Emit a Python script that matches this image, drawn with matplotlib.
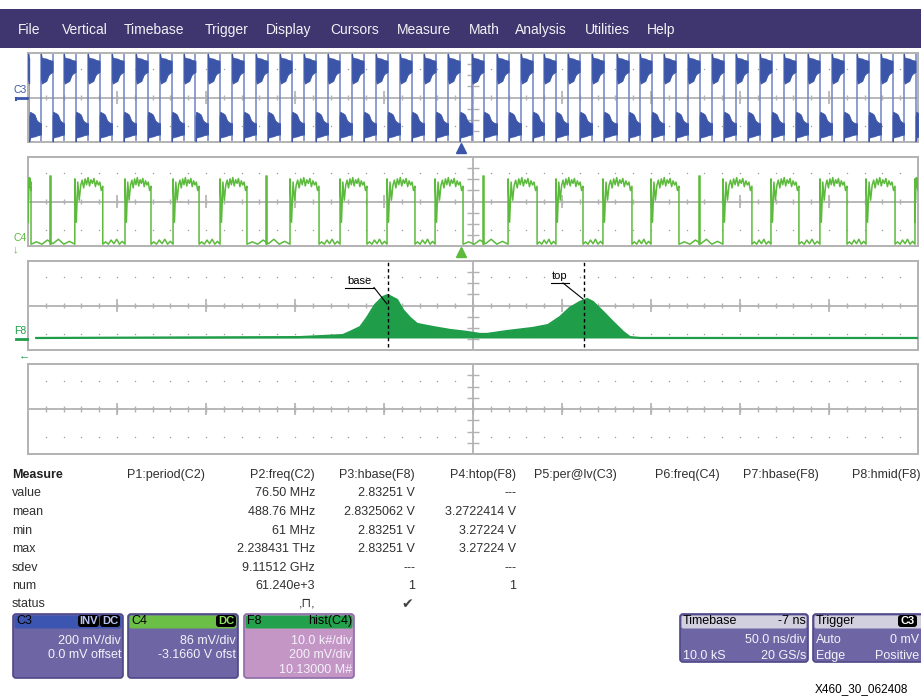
import numpy as np
import matplotlib.pyplot as plt
from matplotlib.patches import Rectangle, FancyBboxPatch

plt.rcParams['font.family'] = ['Liberation Sans', 'DejaVu Sans']

W, H = 921, 696

# ---------------- data ----------------
menu_items = ['File', 'Vertical', 'Timebase', 'Trigger', 'Display', 'Cursors',
              'Measure', 'Math', 'Analysis', 'Utilities', 'Help']
menu_x = [18, 62, 124, 205, 266, 330, 397, 469, 515, 585, 647]

# C3 edges in ns (50 ns/div, screen centre = 0)
c3_rise = [-242.7, -229.8, -216.3, -202.8, -189.3, -175.8, -162.4, -148.9, -135.4,
           -121.9, -108.4, -94.9, -81.5, -68.0, -54.5, -41.0, -27.5, -14.0, -0.6,
           13.5, 27.0, 39.9, 53.4, 66.9, 80.9, 93.8, 107.3, 120.8, 134.3, 147.8,
           161.2, 174.7, 188.2, 201.7, 215.7, 229.2, 242.1]
c3_fall = [-249.3, -236.2, -223.3, -209.8, -196.3, -182.8, -169.3, -155.9, -142.4,
           -128.9, -115.4, -101.9, -88.4, -75.0, -61.5, -48.0, -34.5, -21.0, -7.5,
           5.9, 20.0, 33.5, 46.4, 59.9, 73.4, 87.4, 100.3, 113.8, 127.3, 140.8,
           154.3, 167.7, 181.2, 194.7, 208.2, 222.2, 235.7, 248.6]
# ringing band after each edge (ns after edge -> mV)
ring_t = [0.0, 0.4, 1.0, 2.0, 3.0, 3.6, 4.2, 5.0, 6.0, 7.0, 8.0]
c3_hi_upper = [395, 360, 355, 352, 350, 345, 340, 336, 332, 330, 330]
c3_hi_lower = [170, 125, 132, 140, 150, 175, 200, 215, 225, 230, 230]
c3_lo_upper = [-170, -128, -134, -142, -155, -180, -205, -218, -228, -232, -232]
c3_lo_lower = [-395, -362, -356, -352, -350, -346, -342, -338, -334, -332, -332]

# C4 high intervals (ns), narrow glitches, plateau / low shapes (mV)
c4_high_start = [-250.0, -223.7, -195.5, -168.5, -142.1, -102.8, -74.7, -48.3, -21.3,
                 19.7, 46.6, 73.0, 100.0, 140.4, 167.4, 194.9, 220.8, 248.3]
c4_high_end = [-248.3, -208.0, -180.9, -153.9, -127.0, -86.5, -59.6, -32.6, -5.6,
               36.0, 61.8, 89.3, 115.7, 156.7, 183.1, 210.1, 237.1, 250.0]
c4_glitch = [-237.6, -116.3, 5.6, 127.0]
c4_plateau = [175, -160, 150, 10, 125, 165, 105, 175, 130, 185, 120, 168, 140, 178,
              115, 160, 128, 150, 85, 118]
c4_low = [-330, -312, -330, -298, -326, -292, -330, -308, -330]

# F8 histogram of C4 (V, k#)
hist_v = [2.042, 2.635, 2.731, 2.747, 2.770, 2.785, 2.803, 2.821, 2.832, 2.853, 2.866,
          2.882, 2.898, 2.934, 2.972, 3.010, 3.039, 3.055, 3.100, 3.158, 3.192, 3.219,
          3.241, 3.264, 3.280, 3.293, 3.316, 3.338, 3.361, 3.376, 3.399, 4.023]
hist_k = [0, 0.4, 1.3, 2.7, 4.9, 9.0, 14.8, 18.4, 19.3, 17.1, 12.6, 9.0, 6.3, 4.9, 3.6,
          2.7, 1.8, 1.8, 3.1, 4.5, 5.8, 9.4, 13.5, 16.2, 17.5, 16.2, 11.7, 7.2, 2.7,
          0.4, 0, 0]
hbase, htop = 2.83251, 3.27224

# measurement table
row_labels = ['value', 'mean', 'min', 'max', 'sdev', 'num', 'status']
col_heads = ['P1:period(C2)', 'P2:freq(C2)', 'P3:hbase(F8)', 'P4:htop(F8)',
             'P5:per@lv(C3)', 'P6:freq(C4)', 'P7:hbase(F8)', 'P8:hmid(F8)']
p2_vals = ['76.50 MHz', '488.76 MHz', '61 MHz', '2.238431 THz', '9.11512 GHz',
           '61.240e+3', ',⊓,']
p3_vals = ['2.83251 V', '2.8325062 V', '2.83251 V', '2.83251 V', '---', '1', '✔']
p4_vals = ['---', '3.2722414 V', '3.27224 V', '3.27224 V', '---', '1', '']

BLUE = '#3b55a8'
BLUE_L = '#6f84c4'
GREEN = '#5cba3c'
HGREEN = '#1f9d49'
GRID = '#b2b2b2'

fig = plt.figure(figsize=(W / 100, H / 100), dpi=100)
fig.patch.set_facecolor('white')


def px_axes(x0, y0, x1, y1):
    return fig.add_axes([x0 / W, 1 - y1 / H, (x1 - x0) / W, (y1 - y0) / H])


def graticule(ax):
    ax.set_xticks([])
    ax.set_yticks([])
    for s in ax.spines.values():
        s.set_color(GRID)
        s.set_linewidth(1.4)
    tr = ax.transAxes
    xs = np.arange(1, 50) / 50
    for yy in (0.185, 0.815):
        ax.plot(xs, [yy] * len(xs), ls='none', marker='s', ms=0.9, mew=0,
                color='#9a9a9a', transform=tr, zorder=1)
    ax.plot([0, 1], [0.5, 0.5], color=GRID, lw=1.3, transform=tr, zorder=1)
    ax.plot([0.5, 0.5], [0, 1], color=GRID, lw=1.3, transform=tr, zorder=1)
    ax.vlines(xs, 0.47, 0.53, color=GRID, lw=1.0, transform=tr, zorder=1)
    ax.vlines(np.arange(1, 10) / 10, 0.43, 0.57, color=GRID, lw=1.2, transform=tr, zorder=1)
    yt = [0.5 + j * 0.125 for j in (-3, -2, -1, 1, 2, 3)]
    ax.hlines(yt, 0.493, 0.507, color=GRID, lw=1.0, transform=tr, zorder=1)


# ---------------- C3 ----------------
ax3 = px_axes(28, 53, 918, 142)
ax3.set_xlim(-250, 250)
ax3.set_ylim(-400, 400)
graticule(ax3)
edges = sorted([(t, 1) for t in c3_rise] + [(t, 0) for t in c3_fall])
state, start = 1, -250.0
segs = []
for t, st in edges:
    segs.append((start, t, state))
    start, state = t, st
segs.append((start, 250.0, state))
ax3.vlines(c3_rise + c3_fall, -390, 390, color=BLUE_L, lw=1.1, zorder=2)
for s, e, st in segs:
    tt = np.minimum(s + np.array(ring_t), e)
    up, lo = (c3_hi_upper, c3_hi_lower) if st else (c3_lo_upper, c3_lo_lower)
    ax3.fill_between(tt, lo, up, color=BLUE, lw=0.6, edgecolor=BLUE, zorder=3)
ax3.plot([-7], [-0.07], marker='^', ms=7, color=BLUE, clip_on=False,
         transform=ax3.get_xaxis_transform())

# ---------------- C4 ----------------
ax4 = px_axes(28, 157, 918, 246)
ax4.set_xlim(-250, 250)
ax4.set_ylim(-344, 344)
graticule(ax4)
t_parts, y_parts = [], []
prev_end = None
for s, e in zip(c4_high_start, c4_high_end):
    if prev_end is not None:
        t_parts.append(np.linspace(prev_end, s, len(c4_low)))
        y_parts.append(c4_low)
    t_parts.append(np.linspace(s, e, len(c4_plateau)))
    y_parts.append(c4_plateau)
    prev_end = e
ax4.plot(np.concatenate(t_parts), np.concatenate(y_parts), color=GREEN, lw=1.1, zorder=3)
for g in c4_glitch:
    ax4.plot([g, g, g + 0.8, g + 0.8], [-330, 195, 195, -330], color=GREEN, lw=1.1, zorder=3)
ax4.plot([-7], [-0.07], marker='^', ms=7, color=GREEN, clip_on=False,
         transform=ax4.get_xaxis_transform())

# ---------------- F8 histogram ----------------
ax8 = px_axes(28, 261, 918, 350)
ax8.set_xlim(2.0235, 4.0235)
ax8.set_ylim(-5.4, 34.6)
graticule(ax8)
ax8.fill_between(hist_v, 0, hist_k, color=HGREEN, lw=0, zorder=3)
ax8.plot(hist_v, hist_k, color=HGREEN, lw=1.6, zorder=3)
for xv in (hbase, htop):
    ax8.axvline(xv, ymin=0.03, ymax=1.0, color='black', lw=1.0, ls=(0, (2.5, 2)), zorder=4)

# ---------------- empty panel ----------------
axe = px_axes(28, 364, 918, 454)
axe.set_xlim(-250, 250)
graticule(axe)

# ---------------- overlay (menu, labels, table, boxes) ----------------
ov = fig.add_axes([0, 0, 1, 1])
ov.set_xlim(0, W)
ov.set_ylim(H, 0)
ov.axis('off')
ov.set_zorder(10)
ov.patch.set_visible(False)

ov.add_patch(Rectangle((0, 9), W, 39, color='#40366f', lw=0))
for name, x in zip(menu_items, menu_x):
    ov.text(x, 34, name, color='#f2f2f6', fontsize=10, va='baseline', ha='left')

# channel labels
ov.text(13, 90, 'C3', color=BLUE, fontsize=7.5, va='center')
ov.plot([16, 27], [97.5, 97.5], color=BLUE, lw=2)
ov.plot([16, 16], [97.5, 100], color=BLUE, lw=1.5)
ov.text(13, 238, 'C4', color=GREEN, fontsize=7.5, va='center')
ov.text(13, 249, '↓', color=GREEN, fontsize=8, va='center')
ov.text(14, 331, 'F8', color=HGREEN, fontsize=7.5, va='center')
ov.plot([16, 27], [338.5, 338.5], color=HGREEN, lw=2)
ov.text(19, 355, '←', color=HGREEN, fontsize=8, va='center')

# base / top labels with leaders
ov.text(359, 281, 'base', fontsize=8, ha='center', va='center')
ov.plot([345, 374], [287.5, 287.5], color='black', lw=0.8)
ov.plot([374, 387], [287.5, 304], color='black', lw=0.8)
ov.text(560, 276, 'top', fontsize=8, ha='center', va='center')
ov.plot([551, 569], [283, 283], color='black', lw=0.8)
ov.plot([563, 583], [283, 299], color='black', lw=0.8)

# measurement table
col_right = [205, 315, 415, 516, 617, 720, 819, 920]
row_y = [493, 512, 531, 549, 568, 586, 604]
TXT = '#303030'
ov.text(12, 475, 'Measure', fontsize=9, fontweight='bold', va='center', color='#202020')
for h, xr in zip(col_heads, col_right):
    ov.text(xr, 475, h, fontsize=9, ha='right', va='center', color=TXT)
for lab, yy in zip(row_labels, row_y):
    ov.text(12, yy, lab, fontsize=9, va='center', color=TXT)
for vals, xr in ((p2_vals, 315), (p3_vals, 415), (p4_vals, 516)):
    for v, yy in zip(vals, row_y):
        if v == '✔':
            ov.text(xr - 2, yy, v, fontsize=10, ha='right', va='center', color='#404040')
        else:
            ov.text(xr, yy, v, fontsize=9, ha='right', va='center', color=TXT)


def ui_box(x0, y0, x1, y1, head_col, body_col, edge_col):
    ov.add_patch(FancyBboxPatch((x0, y0), x1 - x0, y1 - y0,
                                boxstyle='round,pad=0,rounding_size=3',
                                fc=body_col, ec=edge_col, lw=1.2))
    ov.add_patch(FancyBboxPatch((x0 + 1.5, y0 + 1.5), x1 - x0 - 3, 13,
                                boxstyle='round,pad=0,rounding_size=2',
                                fc=head_col, ec='none'))


def badge(x0, x1, y, txt, col):
    ov.add_patch(FancyBboxPatch((x0, y - 6), x1 - x0, 12,
                                boxstyle='round,pad=0,rounding_size=3',
                                fc='black', ec='none'))
    ov.text((x0 + x1) / 2, y, txt, fontsize=8, ha='center', va='center',
            color=col, fontweight='bold')


BODY = '#6e65a4'
EDGE = '#4e4788'
WT = '#f4f2fa'

ui_box(13, 614, 123, 678, '#3c55b0', BODY, EDGE)
ov.text(16, 621, 'C3', fontsize=9, va='center', color='black')
badge(78, 99, 621, 'INV', '#b8c4f0')
badge(100, 120, 621, 'DC', '#b8c4f0')
ov.text(121, 641, '200 mV/div', fontsize=9, ha='right', va='center', color=WT)
ov.text(121, 655, '0.0 mV offset', fontsize=9, ha='right', va='center', color=WT)

ui_box(128, 614, 238, 678, '#6cbf46', BODY, EDGE)
ov.text(131, 621, 'C4', fontsize=9, va='center', color='black')
badge(216, 236, 621, 'DC', '#8fe060')
ov.text(236, 641, '86 mV/div', fontsize=9, ha='right', va='center', color=WT)
ov.text(236, 655, '-3.1660 V ofst', fontsize=9, ha='right', va='center', color=WT)

ui_box(244, 614, 354, 678, '#22a04b', '#c496c6', '#8c6aa8')
ov.text(247, 621, 'F8', fontsize=9, va='center', color='black')
ov.text(352, 621, 'hist(C4)', fontsize=9, ha='right', va='center', color='black')
ov.text(352, 641, '10.0 k#/div', fontsize=9, ha='right', va='center', color=WT)
ov.text(352, 655, '200 mV/div', fontsize=9, ha='right', va='center', color=WT)
ov.text(352, 670, '10.13000 M#', fontsize=9, ha='right', va='center', color=WT)

ui_box(680, 614, 808, 662, '#d2d0de', BODY, EDGE)
ov.text(683, 621, 'Timebase', fontsize=9, va='center', color='black')
ov.text(806, 621, '-7 ns', fontsize=9, ha='right', va='center', color='black')
ov.text(806, 640, '50.0 ns/div', fontsize=9, ha='right', va='center', color=WT)
ov.text(683, 656, '10.0 kS', fontsize=9, va='center', color=WT)
ov.text(806, 656, '20 GS/s', fontsize=9, ha='right', va='center', color=WT)

ui_box(813, 614, 928, 662, '#d2d0de', BODY, EDGE)
ov.text(816, 621, 'Trigger', fontsize=9, va='center', color='black')
badge(898, 917, 621, 'C3', 'white')
ov.text(919, 640, '0 mV', fontsize=9, ha='right', va='center', color=WT)
ov.text(816, 640, 'Auto', fontsize=9, va='center', color=WT)
ov.text(816, 656, 'Edge', fontsize=9, va='center', color=WT)
ov.text(919, 656, 'Positive', fontsize=9, ha='right', va='center', color=WT)

ov.text(815, 692, 'X460_30_062408', fontsize=8.5, va='baseline', color='black')

fig.savefig('out.png', dpi=100)
